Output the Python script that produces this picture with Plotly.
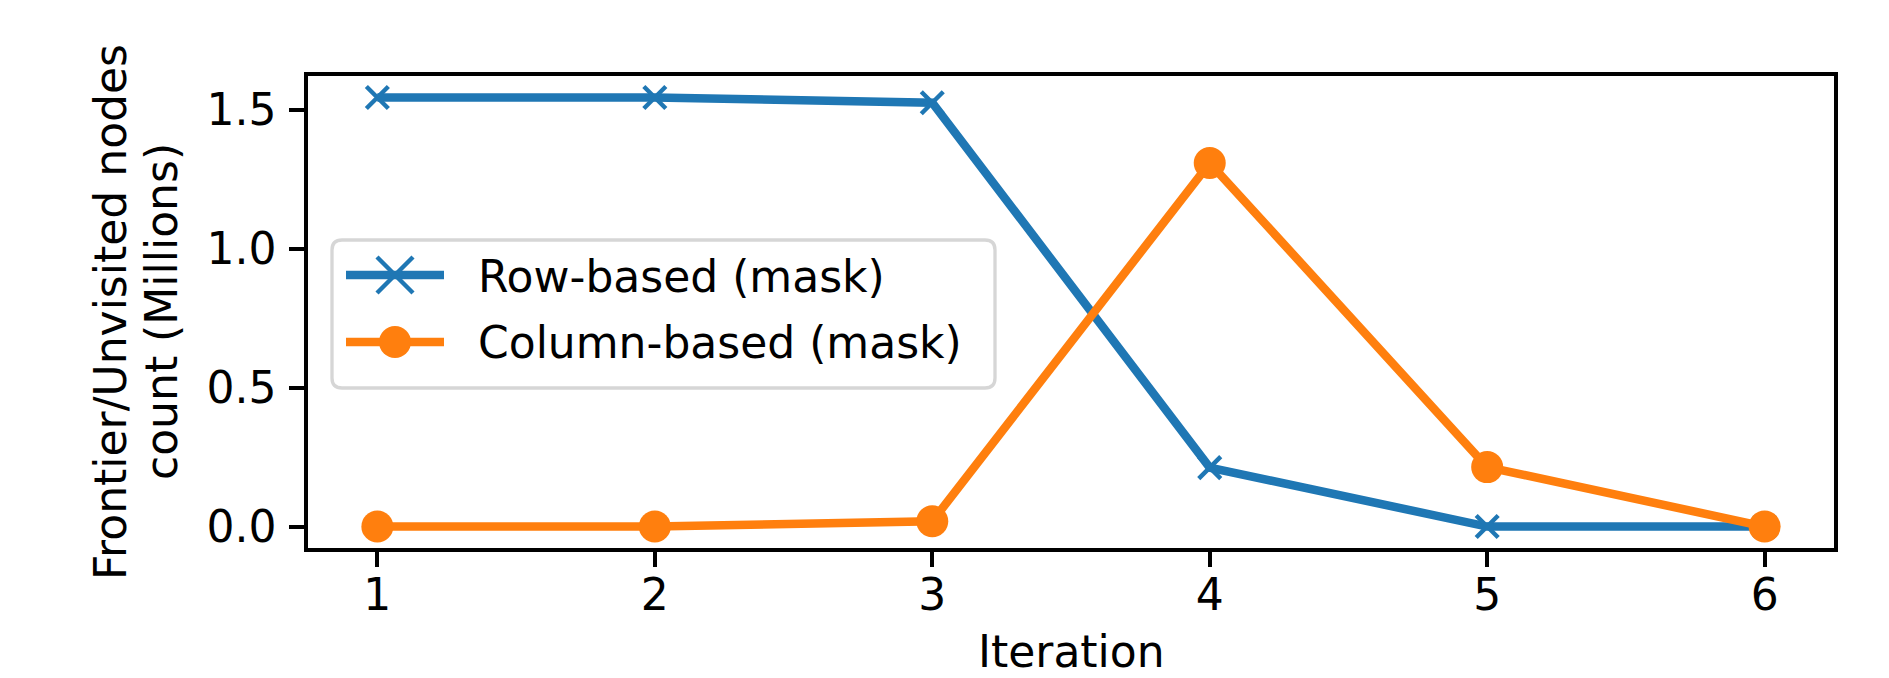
import plotly.graph_objects as go

# ---- data ----
iterations = [1, 2, 3, 4, 5, 6]
row_based = [1.544, 1.544, 1.525, 0.212, 0.0, 0.0]
col_based = [0.0, 0.0, 0.019, 1.308, 0.214, 0.0]
series_names = ["Row-based (mask)", "Column-based (mask)"]
y_ticks = [0.0, 0.5, 1.0, 1.5]
x_title = "Iteration"
y_title_lines = ["Frontier/Unvisited nodes", "count (Millions)"]

BLUE = "#1f77b4"
ORANGE = "#ff7f0e"
FONT = "DejaVu Sans"
FS = 44

W, H = 1889, 678
L, R, T, B = 308, 1834, 76, 548
PW, PH = R - L, B - T


def px(x):
    return (x - L) / PW


def py(y):
    return (B - y) / PH


fig = go.Figure()
fig.add_trace(go.Scatter(
    x=iterations, y=row_based, name=series_names[0], mode="lines+markers",
    line=dict(color=BLUE, width=8.5),
    marker=dict(symbol="x-thin", size=22, line=dict(color=BLUE, width=4.4)),
    showlegend=False, cliponaxis=False,
))
fig.add_trace(go.Scatter(
    x=iterations, y=col_based, name=series_names[1], mode="lines+markers",
    line=dict(color=ORANGE, width=8.5),
    marker=dict(symbol="circle", size=32, color=ORANGE, line=dict(width=0)),
    showlegend=False, cliponaxis=False,
))

axis_common = dict(
    showgrid=False, zeroline=False, showline=True, linecolor="black",
    linewidth=3.5, mirror=True, ticks="outside", ticklen=15, tickwidth=3.5,
    tickcolor="black", tickfont=dict(family=FONT, size=FS, color="black"),
)
fig.update_xaxes(range=[0.75, 6.25], tickvals=iterations, ticklabelstandoff=-10, **axis_common)
fig.update_yaxes(range=[-0.0772, 1.6212], tickvals=y_ticks, tickformat=".1f",
                 ticklabelstandoff=4, **axis_common)

shapes = []
annotations = []

# legend box (rounded)
x0, x1 = px(332), px(995)
y0, y1 = py(388), py(240)
rx, ry = 10 / PW, 10 / PH
path = (f"M {x0+rx},{y1} L {x1-rx},{y1} Q {x1},{y1} {x1},{y1-ry} "
        f"L {x1},{y0+ry} Q {x1},{y0} {x1-rx},{y0} L {x0+rx},{y0} "
        f"Q {x0},{y0} {x0},{y0+ry} L {x0},{y1-ry} Q {x0},{y1} {x0+rx},{y1} Z")
shapes.append(dict(type="path", path=path, xref="paper", yref="paper",
                   line=dict(color="#d6d6d6", width=3.3), fillcolor="white", layer="above"))

# legend samples
legend_rows = [(275, BLUE, "x", series_names[0], 276), (342, ORANGE, "o", series_names[1], 343)]
for yline, col, mk, name, ytext in legend_rows:
    shapes.append(dict(type="line", xref="paper", yref="paper",
                       x0=px(346), x1=px(444), y0=py(yline), y1=py(yline),
                       line=dict(color=col, width=8.5), layer="above"))
    if mk == "o":
        r = 16
        shapes.append(dict(type="circle", xref="paper", yref="paper",
                           x0=px(395 - r), x1=px(395 + r), y0=py(yline + r), y1=py(yline - r),
                           fillcolor=col, line=dict(width=0), layer="above"))
    else:
        h = 18
        p = (f"M {px(395-h)},{py(yline-h)} L {px(395+h)},{py(yline+h)} "
             f"M {px(395-h)},{py(yline+h)} L {px(395+h)},{py(yline-h)}")
        shapes.append(dict(type="path", path=p, xref="paper", yref="paper",
                           line=dict(color=col, width=4.4), layer="above"))
    annotations.append(dict(text=name, xref="paper", yref="paper", x=px(476), y=py(ytext),
                            xanchor="left", yanchor="middle", showarrow=False,
                            font=dict(family=FONT, size=FS, color="black")))

# axis titles
annotations.append(dict(text=x_title, xref="paper", yref="paper", x=px(1071), y=py(651),
                        xanchor="center", yanchor="middle", showarrow=False,
                        font=dict(family=FONT, size=FS, color="black")))
annotations.append(dict(text=y_title_lines[0], xref="paper", yref="paper", x=px(110), y=py(312),
                        xanchor="center", yanchor="middle", showarrow=False, textangle=-90,
                        font=dict(family=FONT, size=FS, color="black")))
annotations.append(dict(text=y_title_lines[1], xref="paper", yref="paper", x=px(161), y=py(312),
                        xanchor="center", yanchor="middle", showarrow=False, textangle=-90,
                        font=dict(family=FONT, size=FS, color="black")))

fig.update_layout(
    width=W, height=H,
    margin=dict(l=L, r=W - R, t=T, b=H - B, autoexpand=False),
    paper_bgcolor="white", plot_bgcolor="white",
    showlegend=False, shapes=shapes, annotations=annotations,
    font=dict(family=FONT, size=FS, color="black"),
)

fig.write_html(
    "out.html",
    config={"displayModeBar": False},
    post_script="document.body.style.margin='0';document.body.style.padding='0';"
                "document.documentElement.style.overflow='hidden';",
)
